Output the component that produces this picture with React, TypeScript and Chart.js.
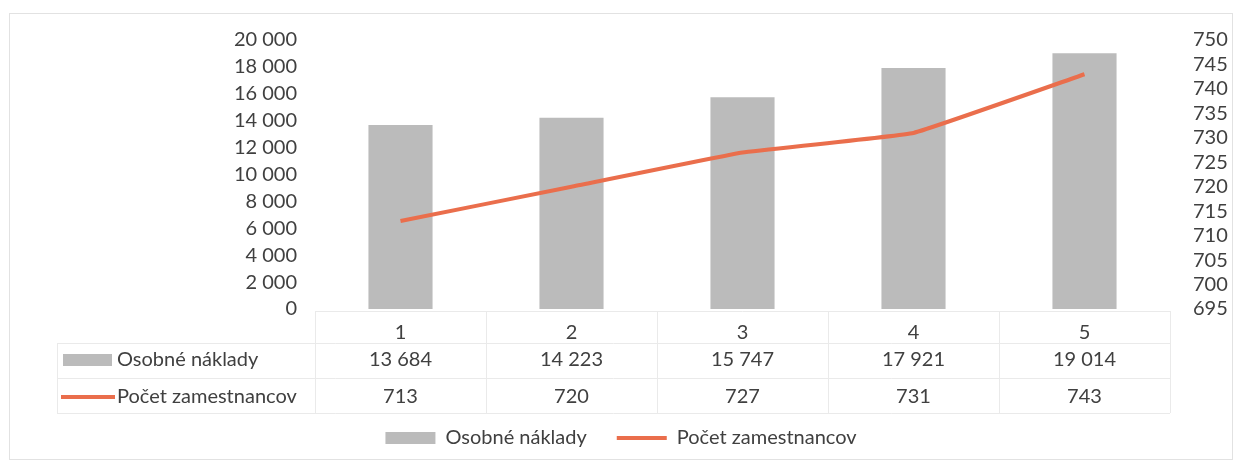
import React, { useEffect, useRef } from "react";
import { Chart, registerables } from "chart.js";

Chart.register(...registerables);

const categories = ["1", "2", "3", "4", "5"];
const osobneNaklady = [13684, 14223, 15747, 17921, 19014];
const pocetZamestnancov = [713, 720, 727, 731, 743];
const seriesNames = ["Osobné náklady", "Počet zamestnancov"];

const BAR_COLOR = "#BBBBBB";
const LINE_COLOR = "#EA6E4C";
const TEXT_COLOR = "#404040";
const GRID_COLOR = "#EAEAEA";
const FONT_FAMILY = "Lato, 'Open Sans', sans-serif";
const FONT_SIZE = 20;

const fmt = (v: number) => String(v).replace(/\B(?=(\d{3})+(?!\d))/g, " ");

const tablePlugin = {
  id: "dataTable",
  beforeDraw(chart: any) {
    const { ctx, width, height } = chart;
    ctx.save();
    ctx.fillStyle = "#FFFFFF";
    ctx.fillRect(0, 0, width, height);
    ctx.strokeStyle = "#E2E2E2";
    ctx.lineWidth = 1;
    ctx.strokeRect(9.5, 13.5, width - 19, height - 22);
    ctx.restore();
  },
  afterDraw(chart: any) {
    const { ctx, chartArea } = chart;
    const xs = chart.scales.x;
    const b = chartArea.bottom;
    const left = chartArea.left;
    const right = chartArea.right;
    const n = categories.length;
    const colW = (right - left) / n;
    const tableLeft = 57;
    const r1 = b + 34;
    const r2 = b + 69;
    const r3 = b + 104;
    ctx.save();
    ctx.strokeStyle = GRID_COLOR;
    ctx.lineWidth = 1;
    ctx.beginPath();
    for (let i = 0; i <= n; i++) {
      const xx = Math.round(left + i * colW) + 0.5;
      ctx.moveTo(xx, b + 2);
      ctx.lineTo(xx, r3);
    }
    ctx.moveTo(tableLeft + 0.5, r1);
    ctx.lineTo(tableLeft + 0.5, r3);
    ctx.moveTo(left, b + 2.5);
    ctx.lineTo(right, b + 2.5);
    [r1, r2, r3].forEach((yy) => {
      ctx.moveTo(tableLeft, Math.round(yy) + 0.5);
      ctx.lineTo(right, Math.round(yy) + 0.5);
    });
    ctx.stroke();

    ctx.font = `${FONT_SIZE}px ${FONT_FAMILY}`;
    ctx.fillStyle = TEXT_COLOR;
    ctx.textBaseline = "middle";
    ctx.textAlign = "center";
    const rowY = [b + 51, b + 88];
    const rows = [osobneNaklady, pocetZamestnancov];
    rows.forEach((vals, r) => {
      vals.forEach((v, i) => {
        ctx.fillText(fmt(v), xs.getPixelForValue(i), rowY[r]);
      });
    });
    ctx.textAlign = "left";
    ctx.fillStyle = BAR_COLOR;
    ctx.fillRect(63, rowY[0] - 6, 49, 12);
    ctx.strokeStyle = LINE_COLOR;
    ctx.lineWidth = 4;
    ctx.beginPath();
    ctx.moveTo(61, rowY[1]);
    ctx.lineTo(115, rowY[1]);
    ctx.stroke();
    ctx.fillStyle = TEXT_COLOR;
    ctx.fillText(seriesNames[0], 117, rowY[0]);
    ctx.fillText(seriesNames[1], 117, rowY[1]);
    ctx.restore();
  },
};

export default function App() {
  const ref = useRef<HTMLCanvasElement | null>(null);
  useEffect(() => {
    if (!ref.current) return;
    const font = { family: FONT_FAMILY, size: FONT_SIZE };
    const chart = new Chart(ref.current, {
      type: "bar",
      data: {
        labels: categories,
        datasets: [
          {
            type: "bar",
            label: seriesNames[0],
            data: osobneNaklady,
            backgroundColor: BAR_COLOR,
            borderWidth: 0,
            barPercentage: 0.375,
            categoryPercentage: 1,
            yAxisID: "y",
            order: 1,
          },
          {
            type: "line",
            label: seriesNames[1],
            data: pocetZamestnancov,
            borderColor: LINE_COLOR,
            backgroundColor: LINE_COLOR,
            borderWidth: 4,
            pointRadius: 0,
            pointHoverRadius: 0,
            tension: 0.08,
            yAxisID: "y1",
            order: 0,
          },
        ],
      } as any,
      options: {
        responsive: false,
        animation: false,
        layout: { padding: { top: 40, bottom: 10, left: 0, right: 0 } },
        scales: {
          x: {
            grid: { display: false },
            border: { display: false },
            ticks: { font, color: TEXT_COLOR, padding: 4 },
            afterFit: (s: any) => {
              s.height = 89;
            },
          },
          y: {
            position: "left",
            min: 0,
            max: 20000,
            grid: { display: false, drawTicks: false },
            border: { display: false },
            ticks: {
              stepSize: 2000,
              autoSkip: false,
              font,
              color: TEXT_COLOR,
              padding: 18,
              callback: (v: any) => fmt(Number(v)),
            },
            afterFit: (s: any) => {
              s.width = 315;
            },
          },
          y1: {
            position: "right",
            min: 695,
            max: 750,
            grid: { display: false, drawTicks: false },
            border: { display: false },
            ticks: {
              stepSize: 5,
              autoSkip: false,
              font,
              color: TEXT_COLOR,
              padding: 23,
            },
            afterFit: (s: any) => {
              s.width = 72;
            },
          },
        },
        plugins: {
          tooltip: { enabled: false },
          legend: {
            position: "bottom",
            labels: {
              font,
              color: TEXT_COLOR,
              usePointStyle: true,
              pointStyleWidth: 50,
              boxHeight: 12,
              padding: 30,
              sort: (a: any, b: any) => a.datasetIndex - b.datasetIndex,
              generateLabels: (c: any) => {
                const items = (Chart as any).defaults.plugins.legend.labels.generateLabels(c);
                items.forEach((it: any) => {
                  if (it.datasetIndex === 0) {
                    it.pointStyle = "rect";
                    it.lineWidth = 0;
                    it.fillStyle = BAR_COLOR;
                  } else {
                    it.pointStyle = "line";
                    it.lineWidth = 4;
                    it.strokeStyle = LINE_COLOR;
                  }
                });
                return items;
              },
            },
          },
        },
      } as any,
      plugins: [tablePlugin],
    });
    return () => chart.destroy();
  }, []);
  return (
    <div style={{ position: "absolute", left: 0, top: 0, width: 1242, height: 468 }}>
      <canvas ref={ref} width={1242} height={468} style={{ display: "block" }} />
    </div>
  );
}
